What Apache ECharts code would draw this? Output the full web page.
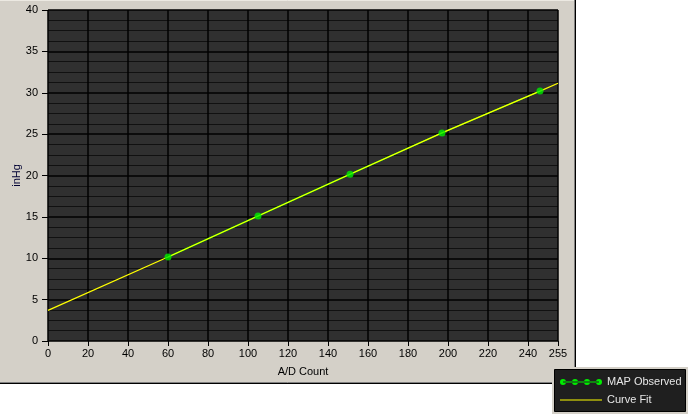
<!DOCTYPE html>
<html><head><meta charset="utf-8">
<script src="https://cdn.jsdelivr.net/npm/echarts@6/dist/echarts.min.js"></script>
<style>html,body{margin:0;padding:0;background:#fff}#c{width:690px;height:416px}</style>
</head><body><div id="c"></div>
<script>
var observedX = [60, 105, 151, 197, 246];
var observedY = [10.15, 15.1, 20.15, 25.15, 30.2];
var fitX = [0, 60, 105, 151, 197, 246, 255];
var fitY = [3.7, 10.15, 15.1, 20.15, 25.15, 30.2, 31.15];
var xTicks = [0, 20, 40, 60, 80, 100, 120, 140, 160, 180, 200, 220, 240, 255];
var yTicks = [0, 5, 10, 15, 20, 25, 30, 35, 40];

var obsData = observedX.map(function (x, i) { return [x, observedY[i]]; });
var fitData = fitX.map(function (x, i) { return [x, fitY[i]]; });

var font = 'Liberation Sans';
var chart = echarts.init(document.getElementById('c'), null, { renderer: 'canvas' });
var obsIcon = 'path://M3,3.5 L39,3.5 L39,4.5 L3,4.5 Z ' +
  [3, 15, 27, 39].map(function (cx) {
    return 'M' + (cx - 3) + ',4 a3,3 0 1,0 6,0 a3,3 0 1,0 -6,0 Z';
  }).join(' ');
var fitIcon = 'path://M0,3.5 L42,3.5 L42,4.5 L0,4.5 Z M0,1 L0.01,1 L0,1.01 Z M42,7 L41.99,7 L42,6.99 Z';

chart.setOption({
  animation: false,
  backgroundColor: '#ffffff',
  graphic: [
    { type: 'rect', z: -10, shape: { x: 0, y: 0, width: 576, height: 384 }, style: { fill: '#d4d0c8' } },
    { type: 'line', z: -9, shape: { x1: 0, y1: 0.5, x2: 575, y2: 0.5 }, style: { stroke: '#ece9e2', lineWidth: 1 } },
    { type: 'line', z: -9, shape: { x1: 574.5, y1: 0, x2: 574.5, y2: 383 }, style: { stroke: '#808080', lineWidth: 1 } },
    { type: 'line', z: -9, shape: { x1: 575.5, y1: 0, x2: 575.5, y2: 384 }, style: { stroke: '#000000', lineWidth: 1 } },
    { type: 'line', z: -9, shape: { x1: 0, y1: 382.5, x2: 575, y2: 382.5 }, style: { stroke: '#808080', lineWidth: 1 } },
    { type: 'line', z: -9, shape: { x1: 0, y1: 383.5, x2: 576, y2: 383.5 }, style: { stroke: '#000000', lineWidth: 1 } },
    { type: 'rect', z: 20, shape: { x: 552, y: 367, width: 136, height: 47 }, style: { fill: '#d4d0c8' } },
    { type: 'rect', z: 20, shape: { x: 554.5, y: 369.5, width: 131, height: 42 }, style: { fill: '#1f1f1f', stroke: '#000000', lineWidth: 1 } }
  ],
  grid: { left: 48, right: 132, top: 10, bottom: 75, show: true, backgroundColor: '#303030', borderWidth: 0,
    containLabel: false, outerBoundsMode: 'none' },
  legend: {
    z: 30,
    orient: 'vertical', left: 560, top: 375, padding: 0,
    itemWidth: 42, itemHeight: 7, itemGap: 4,
    textStyle: { color: '#e6e6e6', fontFamily: font, fontSize: 11, lineHeight: 14, padding: [0, 0, 0, 0] },
    data: [
      { name: 'MAP Observed', icon: obsIcon, itemStyle: { color: '#00ee00' } },
      { name: 'Curve Fit', icon: fitIcon, itemStyle: { color: '#ffff00' } }
    ]
  },
  xAxis: {
    type: 'value', min: 0, max: 255, interval: 20,
    name: 'A/D Count', nameLocation: 'middle', nameGap: 25, nameMoveOverlap: false,
    nameTextStyle: { color: '#000000', fontFamily: font, fontSize: 11 },
    axisLine: { show: false },
    axisTick: { show: true, length: 5, lineStyle: { color: '#000000', width: 1 } },
    axisLabel: { color: '#000000', fontFamily: font, fontSize: 11, margin: 7, showMaxLabel: true,
      customValues: xTicks },
    splitLine: { show: true, lineStyle: { color: '#000000', width: 1.5 } }
  },
  yAxis: {
    type: 'value', min: 0, max: 40, interval: 5,
    name: 'inHg', nameLocation: 'middle', nameGap: 26, nameMoveOverlap: false,
    nameTextStyle: { color: '#000033', fontFamily: font, fontSize: 11 },
    axisLine: { show: false },
    axisTick: { show: true, length: 6, lineStyle: { color: '#000000', width: 1 } },
    axisLabel: { color: '#000000', fontFamily: font, fontSize: 11, margin: 10 },
    splitLine: { show: true, lineStyle: { color: '#000000', width: 1.5 } },
    minorTick: { show: false, splitNumber: 4 },
    minorSplitLine: { show: true, lineStyle: { color: '#111111', width: 1 } }
  },
  series: [
    { name: 'MAP Observed', type: 'line', data: obsData, symbol: 'none', z: 2,
      lineStyle: { color: '#00ee00', width: 1.5 }, itemStyle: { color: '#00ee00' } },
    { name: 'Curve Fit', type: 'line', data: fitData, symbol: 'none', z: 3,
      lineStyle: { color: '#ffff00', width: 1.2 }, itemStyle: { color: '#ffff00' } },
    { name: 'MAP Observed', type: 'scatter', data: obsData, symbol: 'circle', symbolSize: 7, z: 4,
      itemStyle: { color: '#00ee00' } }
  ]
});
</script></body></html>
